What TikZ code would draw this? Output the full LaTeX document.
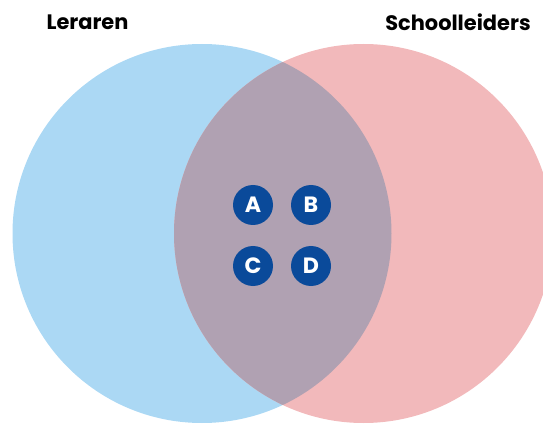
\documentclass[tikz,border=0pt]{standalone}
\usepackage{fontspec}
\setmainfont{Poppins}
\usepackage{tikz}

\definecolor{leraarblauw}{RGB}{171,216,244}
\definecolor{leiderroze}{RGB}{242,185,187}
\definecolor{overlapgrijs}{RGB}{176,161,178}
\definecolor{letterblauw}{RGB}{10,74,154}

\begin{document}
\begin{tikzpicture}[scale=0.2]
\tikzstyle{every node}+=[inner sep=0pt]
\tikzstyle{groep}=[font=\fontsize{11.9}{14}\selectfont\bfseries, text=black]
\tikzstyle{letter}=[circle, fill=letterblauw, minimum size=0.8cm, text=white, font=\fontsize{12.6}{14}\selectfont\bfseries]
\useasboundingbox (0,0) rectangle (54.3,-42.5);
\clip (0,0) rectangle (54.3,-42.5);
\fill [leraarblauw] (20.2,-23.35) circle (18.95);
\fill [leiderroze] (36.35,-23.35) circle (18.95);
\begin{scope}
\clip (20.2,-23.35) circle (18.95);
\fill [overlapgrijs] (36.35,-23.35) circle (18.95);
\end{scope}
\node [groep] (leraren) at (8.75,-2.2) {Leraren};
\node [groep] (schoolleiders) at (45.8,-2.2) {Schoolleiders};
\node [letter] (A) at (25.3,-20.5) {A};
\node [letter] (B) at (31.1,-20.5) {B};
\node [letter] (C) at (25.3,-26.6) {C};
\node [letter] (D) at (31.1,-26.6) {D};
\end{tikzpicture}
\end{document}
